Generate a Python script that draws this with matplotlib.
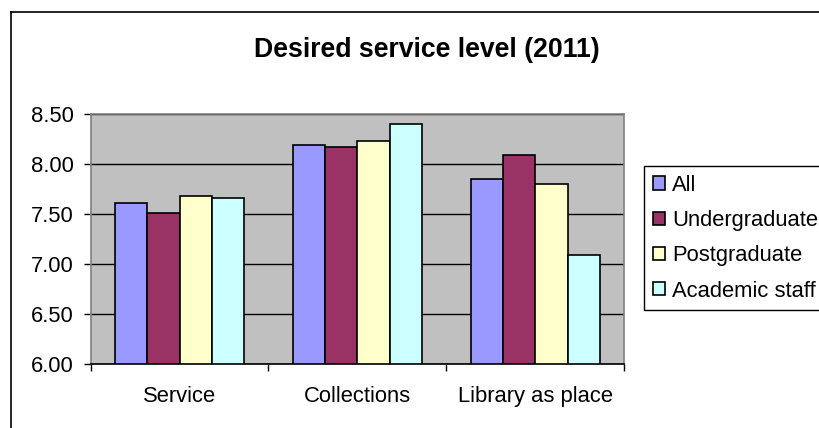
import matplotlib
matplotlib.use("Agg")
import matplotlib.pyplot as plt
import numpy as np
from matplotlib.lines import Line2D

plt.rcParams['font.family'] = ['Liberation Sans', 'DejaVu Sans']

categories = ["Service", "Collections", "Library as place"]
series_names = ["All", "Undergraduate", "Postgraduate", "Academic staff"]
values_all = [7.61, 8.19, 7.85]
values_undergrad = [7.51, 8.17, 8.09]
values_postgrad = [7.68, 8.23, 7.80]
values_staff = [7.66, 8.40, 7.09]
series_values = [values_all, values_undergrad, values_postgrad, values_staff]
colors = ["#9999FF", "#993366", "#FFFFCC", "#CCFFFF"]
yticks = [6.00, 6.50, 7.00, 7.50, 8.00, 8.50]

W, H = 819, 428
fig = plt.figure(figsize=(W / 100, H / 100), dpi=100)
fig.patch.set_facecolor("white")

FS = 15.8

# plot area in pixels
left, right, top, bottom = 90.5, 624, 113.5, 364
ax = fig.add_axes([left / W, (H - bottom) / H, (right - left) / W, (bottom - top) / H])
ax.set_facecolor("#C0C0C0")

bw = 0.182
group_off = 0.137
x0 = np.arange(len(categories))
bars = []
for i, (name, vals, c) in enumerate(zip(series_names, series_values, colors)):
    xs = x0 + group_off + i * bw
    b = ax.bar(xs, np.array(vals) - 6.0, bottom=6.0, width=bw, align="edge",
               color=c, edgecolor="black", linewidth=1.2, label=name, zorder=3)
    bars.append(b)

ax.set_xlim(0, 3)
ax.set_ylim(6.0, 8.5)
ax.set_yticks(yticks)
ax.set_yticklabels([f"{v:.2f}" for v in yticks])
ax.yaxis.grid(True, color="black", linewidth=1.0, zorder=1)
ax.set_axisbelow(True)

ax.set_xticks([0, 1, 2, 3])
ax.set_xticklabels([])
ax.set_xticks([0.5, 1.5, 2.5], minor=True)
ax.set_xticklabels(categories, minor=True)
ax.tick_params(axis="x", which="major", direction="out", length=5, width=1, color="black")
ax.tick_params(axis="x", which="minor", length=0, pad=16, labelsize=FS)
ax.tick_params(axis="y", direction="out", length=5, width=1, color="black", pad=7, labelsize=FS)

for s in ["top", "left", "right"]:
    ax.spines[s].set_color("#808080")
    ax.spines[s].set_linewidth(1.2)
ax.spines["bottom"].set_color("black")
ax.spines["bottom"].set_linewidth(1.2)

# title
fig.text(427 / W, (H - 57) / H, "Desired service level (2011)", ha="center", va="baseline",
         fontsize=19.2, fontweight="bold")

# legend
leg = fig.legend(handles=bars, labels=series_names, loc="upper left",
                 bbox_to_anchor=(644 / W, (H - 166) / H), fontsize=FS,
                 frameon=True, fancybox=False, edgecolor="black", framealpha=1,
                 handlelength=0.55, handleheight=0.55, handletextpad=0.32,
                 labelspacing=0.65, borderpad=0.4, borderaxespad=0)
leg.get_frame().set_linewidth(1.0)

# chart border (left and top)
fig.add_artist(Line2D([11 / W, 11 / W], [0, (H - 12) / H], color="black", linewidth=1.2,
                      transform=fig.transFigure))
fig.add_artist(Line2D([11 / W, 1], [(H - 12) / H, (H - 12) / H], color="black", linewidth=1.2,
                      transform=fig.transFigure))

fig.savefig("out.png", dpi=100)
